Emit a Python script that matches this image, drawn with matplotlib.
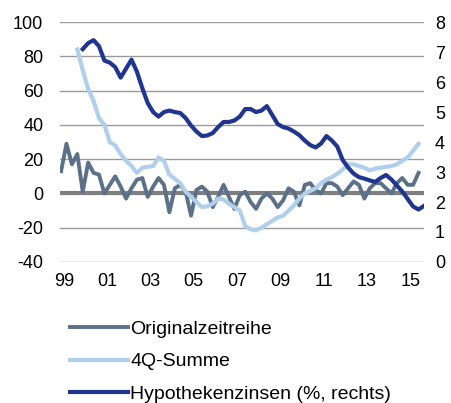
import numpy as np
import matplotlib
matplotlib.use("Agg")
import matplotlib.pyplot as plt

plt.rcParams['font.family'] = ['Liberation Sans', 'DejaVu Sans']
plt.rcParams['axes.unicode_minus'] = False

# Quarterly data, 1999Q1 onward (index 0 = 1999Q1)
original = [13, 29, 17, 23, 1, 18, 12, 11, 0, 5,
            10, 4, -3, 3, 8, 9, -2, 4, 9, 5,
            -11, 3, 5, 1, -13, 2, 4, 1, -8, -2,
            5, -2, -9, -1, 1, -5, -9, -3, 0, -3,
            -8, -4, 3, 1, -7, 5, 6, 2, 0, 6,
            6, 4, -1, 3, 7, 5, -3, 3, 6, 6,
            3, 0, 6, 9, 5, 5, 12]
# 4Q-Summe starts 1999Q4
summe4q_start = 3
summe4q = [84, 72, 61, 54, 44, 40, 30, 28, 23, 19,
           16, 12, 15, 15.5, 16, 21, 19, 11, 8.5, 6,
           1, -2, -5, -8, -7.5, -6, -3, -3.5, -6, -8,
           -10, -19, -21, -21.5, -20, -18, -16, -14, -13, -10,
           -7, -3, 0, 1.5, 3, 6, 8, 9.5, 11.5, 14,
           17, 17, 16, 15, 13.5, 14.5, 15, 15.5, 16, 17,
           19, 21, 25, 29]
# Hypothekenzinsen (right axis) starts 2000Q1
hypo_start = 4
hypo = [7.1, 7.3, 7.4, 7.2, 6.72, 6.65, 6.5, 6.15, 6.45, 6.75,
        6.35, 5.8, 5.3, 5.0, 4.85, 5.0, 5.05, 5.0, 4.97, 4.8,
        4.55, 4.35, 4.2, 4.22, 4.3, 4.5, 4.67, 4.67, 4.72, 4.85,
        5.1, 5.1, 5.0, 5.05, 5.2, 4.9, 4.6, 4.5, 4.45, 4.35,
        4.23, 4.05, 3.9, 3.82, 3.95, 4.2, 4.05, 3.85, 3.4, 3.15,
        2.95, 2.83, 2.78, 2.72, 2.67, 2.8, 2.9, 2.75, 2.55, 2.35,
        2.1, 1.85, 1.75, 1.87]

xlabels = ["99", "01", "03", "05", "07", "09", "11", "13", "15"]
left_ticks = [-40, -20, 0, 20, 40, 60, 80, 100]
right_ticks = [0, 1, 2, 3, 4, 5, 6, 7, 8]

c_orig = "#5b7189"
c_4q = "#afcfec"
c_hypo = "#1f3590"

fig = plt.figure(figsize=(4.51, 4.03), dpi=100)
ax = fig.add_axes([0.133, 0.350, 0.807, 0.595])

q_orig = np.arange(len(original))
q_4q = np.arange(summe4q_start, summe4q_start + len(summe4q))
q_hypo = np.arange(hypo_start, hypo_start + len(hypo))

for v in left_ticks:
    if v != 0:
        ax.axhline(v, color="#9a9a9a", lw=1, zorder=1)
ax.axhline(0, color="#7f7f7f", lw=3, zorder=2)

l1, = ax.plot(q_orig, original, color=c_orig, lw=2.8, zorder=3,
              label="Originalzeitreihe")
l2, = ax.plot(q_4q, summe4q, color=c_4q, lw=3, zorder=4, label="4Q-Summe")

ax.set_ylim(-40, 100)
ax.set_yticks(left_ticks)
ax.set_xlim(-0.2, 67.0)
ax.set_xticks(np.arange(len(xlabels)) * 8 + 0.5)
ax.set_xticklabels(xlabels)
ax.tick_params(length=0, labelsize=13)
ax.tick_params(axis="y", pad=12)
ax.tick_params(axis="x", pad=8)
for s in ax.spines.values():
    s.set_visible(False)

ax2 = ax.twinx()
l3, = ax2.plot(q_hypo, hypo, color=c_hypo, lw=3, zorder=5,
               label="Hypothekenzinsen (%, rechts)")
ax2.set_ylim(0, 8)
ax2.set_yticks(right_ticks)
ax2.tick_params(length=0, labelsize=13, pad=8)
for s in ax2.spines.values():
    s.set_visible(False)

fig.legend(handles=[l1, l2, l3], loc="upper left",
           bbox_to_anchor=(0.155, 0.205), frameon=False, fontsize=14,
           handlelength=3.0, handletextpad=0.1, labelspacing=0.76,
           borderaxespad=0, borderpad=0)

fig.savefig("out.png", dpi=100)
